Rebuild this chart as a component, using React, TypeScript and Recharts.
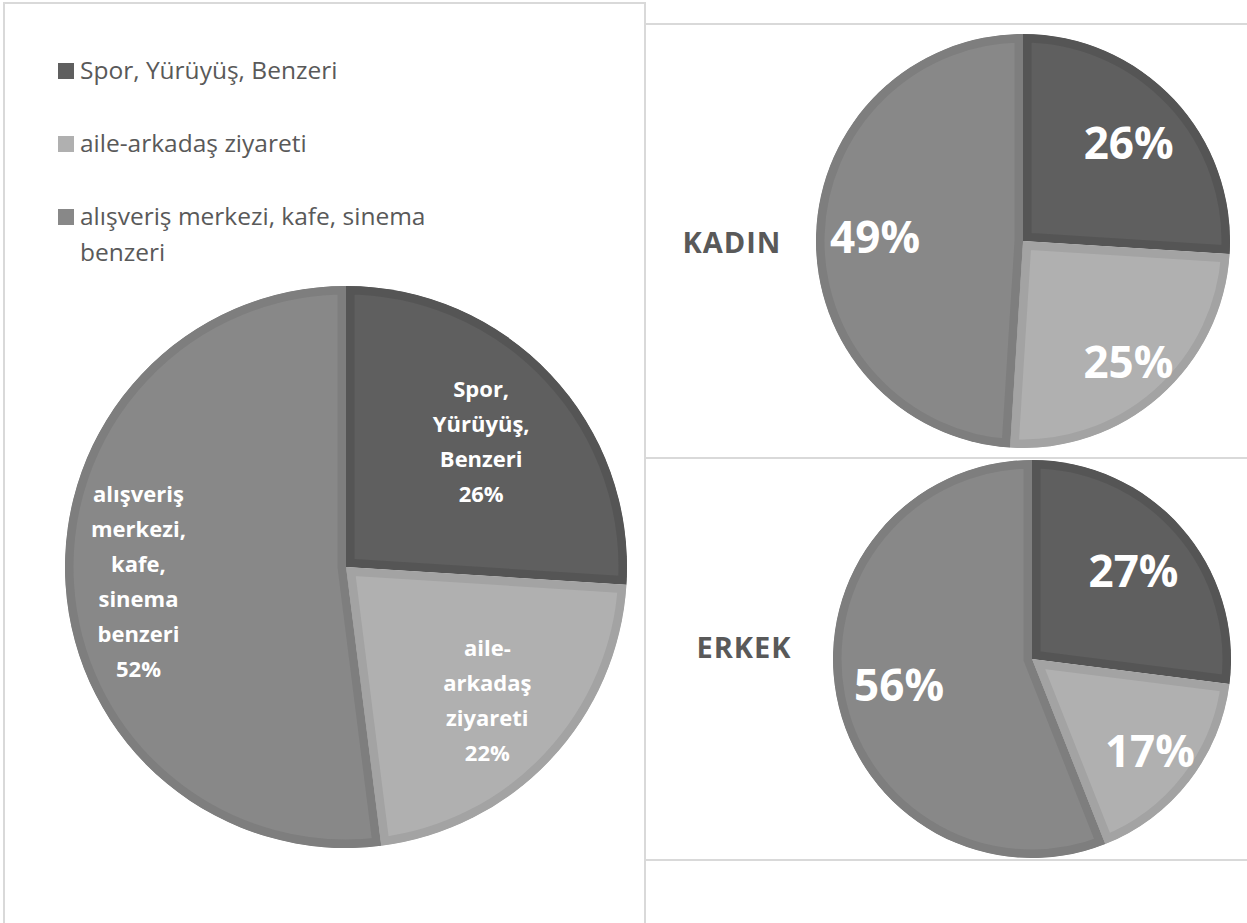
import React from 'react';
import { PieChart, Pie, Cell, Sector } from 'recharts';

const categories = ['Spor, Yürüyüş, Benzeri', 'aile-arkadaş ziyareti', 'alışveriş merkezi, kafe, sinema benzeri'];
const totalValues = [26, 22, 52];
const kadinValues = [26, 25, 49];
const erkekValues = [27, 17, 56];

const fills = ['#5f5f5f', '#b0b0b0', '#888888'];
const borders = ['#555555', '#a3a3a3', '#7e7e7e'];

const FONT = '"Open Sans", "Noto Sans", sans-serif';
const RADIAN = Math.PI / 180;

const toRows = (values: number[]) => categories.map((name, i) => ({ name, value: values[i] }));

// Excel style inner border: stroke clipped to the slice itself
const makeShape = (prefix: string) => (props: any) => {
  const id = `${prefix}-${Math.round(props.startAngle * 10)}`;
  const { cx, cy, innerRadius, outerRadius, startAngle, endAngle, fill, stroke } = props;
  const geo = { cx, cy, innerRadius, outerRadius, startAngle, endAngle };
  return (
    <g>
      <defs>
        <clipPath id={id}>
          <Sector {...geo} />
        </clipPath>
      </defs>
      <Sector {...geo} fill={fill} stroke={stroke} strokeWidth={17} clipPath={`url(#${id})`} />
    </g>
  );
};

// label distance from centre, as a share of the radius, per slice (best-fit look)
const makeLabel = (factors: number[], fontSize: number, lineHeight: number, multiLine: boolean) => (props: any) => {
  const { cx, cy, midAngle, outerRadius, name, value, index } = props;
  const r = outerRadius * factors[index ?? 0];
  const x = cx + r * Math.cos(-midAngle * RADIAN);
  const y = cy + r * Math.sin(-midAngle * RADIAN);
  const lines = multiLine ? [...String(name).replace('-', '- ').split(' '), `${value}%`] : [`${value}%`];
  const top = y - ((lines.length - 1) * lineHeight) / 2;
  return (
    <text x={x} y={top} fill="#ffffff" fontFamily={FONT} fontWeight={700} fontSize={fontSize} textAnchor="middle" dominantBaseline="central">
      {lines.map((l, i) => (
        <tspan key={i} x={x} y={top + i * lineHeight}>{l}</tspan>
      ))}
    </text>
  );
};

const LegendBox = () => (
  <div style={{ position: 'absolute', left: 58, top: 52, fontFamily: FONT, fontSize: 24.5, color: '#595959' }}>
    {categories.map((c, i) => (
      <div key={c} style={{ display: 'flex', alignItems: 'flex-start', marginBottom: 37 }}>
        <div style={{ width: 16, height: 16, background: fills[i], marginTop: 11, marginRight: 6, flexShrink: 0 }} />
        <div style={{ width: 350, lineHeight: '36px' }}>{c}</div>
      </div>
    ))}
  </div>
);

const lineColor = '#d9d9d9';

const Title = ({ text, left, top }: { text: string; left: number; top: number }) => (
  <div style={{ position: 'absolute', left, top, transform: 'translate(-50%, -50%)', fontFamily: FONT, fontWeight: 700, fontSize: 29, letterSpacing: 1, color: '#595959', whiteSpace: 'nowrap' }}>
    {text}
  </div>
);

export default function App() {
  return (
    <div style={{ position: 'absolute', left: 0, top: 0, width: 1247, height: 923, background: '#fff', overflow: 'hidden' }}>
      {/* panel frames */}
      <div style={{ position: 'absolute', left: 3, top: 2, width: 643, height: 940, border: `2px solid ${lineColor}`, boxSizing: 'border-box' }} />
      <div style={{ position: 'absolute', left: 645, top: 23, width: 620, height: 2, background: lineColor }} />
      <div style={{ position: 'absolute', left: 645, top: 457, width: 620, height: 2, background: lineColor }} />
      <div style={{ position: 'absolute', left: 645, top: 859, width: 620, height: 2, background: lineColor }} />

      <div style={{ position: 'absolute', left: 5, top: 4 }}>
        <PieChart width={638} height={918}>
          <Pie
            data={toRows(totalValues)}
            dataKey="value"
            nameKey="name"
            cx={336}
            cy={558}
            outerRadius={281}
            startAngle={90}
            endAngle={-270}
            isAnimationActive={false}
            labelLine={false}
            label={makeLabel([0.66, 0.69, 0.74], 22, 35, true)}
            shape={makeShape('tot')}
          >
            {fills.map((f, i) => (
              <Cell key={i} fill={f} stroke={borders[i]} />
            ))}
          </Pie>
        </PieChart>
      </div>
      <LegendBox />

      <div style={{ position: 'absolute', left: 647, top: 25 }}>
        <PieChart width={600} height={432}>
          <Pie
            data={toRows(kadinValues)}
            dataKey="value"
            nameKey="name"
            cx={371}
            cy={211}
            outerRadius={207}
            startAngle={90}
            endAngle={-270}
            isAnimationActive={false}
            labelLine={false}
            label={makeLabel([0.7, 0.77, 0.715], 44, 0, false)}
            shape={makeShape('kad')}
          >
            {fills.map((f, i) => (
              <Cell key={i} fill={f} stroke={borders[i]} />
            ))}
          </Pie>
        </PieChart>
      </div>
      <Title text="KADIN" left={732} top={241} />

      <div style={{ position: 'absolute', left: 647, top: 459 }}>
        <PieChart width={600} height={400}>
          <Pie
            data={toRows(erkekValues)}
            dataKey="value"
            nameKey="name"
            cx={380}
            cy={195}
            outerRadius={199}
            startAngle={90}
            endAngle={-270}
            isAnimationActive={false}
            labelLine={false}
            label={makeLabel([0.68, 0.75, 0.68], 44, 0, false)}
            shape={makeShape('erk')}
          >
            {fills.map((f, i) => (
              <Cell key={i} fill={f} stroke={borders[i]} />
            ))}
          </Pie>
        </PieChart>
      </div>
      <Title text="ERKEK" left={744} top={646} />
    </div>
  );
}
